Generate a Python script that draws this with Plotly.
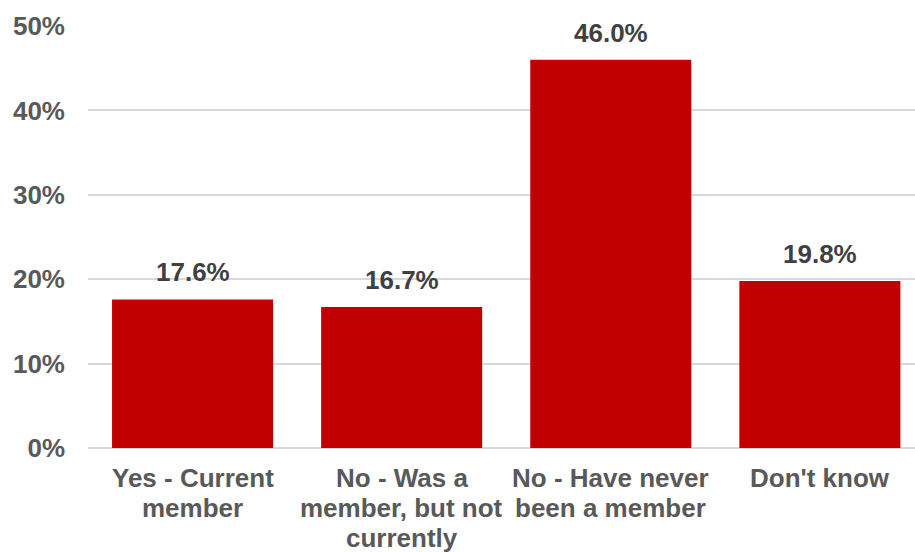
import plotly.graph_objects as go

# Survey responses: membership status
categories = ["Yes - Current", "No - Was a member", "No - Have never", "Don't know"]
category_lines = [
    ["Yes - Current", "member"],
    ["No - Was a", "member, but not", "currently"],
    ["No - Have never", "been a member"],
    ["Don't know"],
]
values = [17.6, 16.7, 46.0, 19.8]
y_ticks = [0, 10, 20, 30, 40, 50]
y_tick_labels = ["0%", "10%", "20%", "30%", "40%", "50%"]

FONT = "Liberation Sans, Arial, sans-serif"
BAR_RED = "#C00000"
TICK_GREY = "#595959"
LABEL_GREY = "#404040"
GRID = "#D9D9D9"

fig = go.Figure(
    go.Bar(
        x=categories,
        y=values,
        marker=dict(color=BAR_RED, line=dict(width=0)),
        width=0.77,
        hoverinfo="skip",
    )
)

annotations = []
# value labels above each bar
for cat, v in zip(categories, values):
    annotations.append(dict(
        x=cat, y=v, xref="x", yref="y",
        text=f"{v:.1f}%", showarrow=False,
        yanchor="bottom", yshift=10,
        font=dict(family=FONT, size=26, color=LABEL_GREY, weight="bold"),
    ))
# multi-line category labels beneath the axis
for cat, lines in zip(categories, category_lines):
    for i, line in enumerate(lines):
        annotations.append(dict(
            x=cat, y=0, xref="x", yref="paper",
            text=line, showarrow=False,
            yanchor="top", yshift=-13 - 30 * i,
            font=dict(family=FONT, size=26, color=TICK_GREY, weight="bold"),
        ))

fig.update_layout(
    width=915, height=552,
    margin=dict(l=88, r=0, t=26, b=104),
    plot_bgcolor="white", paper_bgcolor="white",
    showlegend=False,
    annotations=annotations,
    xaxis=dict(
        range=[-0.5, 3.455],
        showticklabels=False, showgrid=False, zeroline=False,
        showline=False, ticks="",
    ),
    yaxis=dict(
        range=[0, 50], tickmode="array",
        tickvals=y_ticks, ticktext=y_tick_labels,
        showgrid=True, gridcolor=GRID, gridwidth=1.5,
        zeroline=True, zerolinecolor=GRID, zerolinewidth=1.5,
        showline=False, ticks="", ticklabelstandoff=22,
        tickfont=dict(family=FONT, size=26, color=TICK_GREY, weight="bold"),
    ),
)

fig.write_html("out.html")
